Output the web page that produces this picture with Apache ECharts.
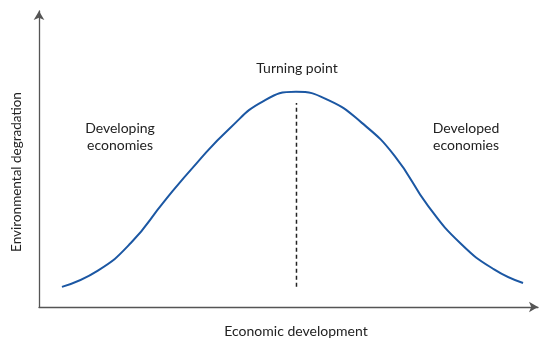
<!DOCTYPE html>
<html>
<head>
<meta charset="utf-8">
<script src="https://cdn.jsdelivr.net/npm/echarts@6/dist/echarts.min.js"></script>
<style>
  html, body { margin: 0; padding: 0; background: #fff; }
  #chart { width: 550px; height: 344px; }
</style>
</head>
<body>
<div id="chart"></div>
<script>
// curve, x = economic development, y = degradation (0-100 scale)
const curveX = [4.6, 11.8, 18.4, 25.1, 31.7, 38.3, 44.9, 51.5, 58.1, 64.7, 71.3, 78.0, 84.6, 91.2, 97.0];
const curveY = [6.8, 12.3, 21.6, 35.7, 48.8, 60.5, 69.5, 72.7, 69.8, 62.2, 51.0, 34.1, 21.3, 12.7, 8.1];

// turning point marker (dashed vertical)
const turnX = [51.6, 51.6];
const turnY = [6.8, 68.9];

const font = 'Lato, "Noto Sans", sans-serif';

const chart = echarts.init(document.getElementById('chart'));

const option = {
  animation: false,
  grid: { left: 39, right: 12, top: 11, bottom: 37 },
  xAxis: {
    type: 'value',
    min: 0,
    max: 100,
    axisLine: {
      show: true,
      symbol: ['none', 'arrow'],
      symbolSize: [8, 9],
      lineStyle: { color: '#555', width: 1.3 }
    },
    axisTick: { show: false },
    axisLabel: { show: false },
    splitLine: { show: false }
  },
  yAxis: {
    type: 'value',
    min: 0,
    max: 100,
    axisLine: {
      show: true,
      symbol: ['none', 'arrow'],
      symbolSize: [8, 9],
      lineStyle: { color: '#555', width: 1.3 }
    },
    axisTick: { show: false },
    axisLabel: { show: false },
    splitLine: { show: false }
  },
  series: [
    {
      type: 'line',
      smooth: 0.5,
      symbol: 'none',
      data: curveX.map((x, i) => [x, curveY[i]]),
      lineStyle: { color: '#1b57a3', width: 2 }
    },
    {
      type: 'line',
      symbol: 'none',
      data: turnX.map((x, i) => [x, turnY[i]]),
      lineStyle: { color: '#222', width: 1.5, type: [4, 3] }
    }
  ],
  graphic: [
    {
      type: 'text', x: 297, y: 68,
      style: { text: 'Turning point', font: '14px ' + font, fill: '#222', align: 'center', verticalAlign: 'middle' }
    },
    {
      type: 'text', x: 120, y: 137,
      style: { text: 'Developing\neconomies', font: '14px ' + font, fill: '#222', align: 'center', verticalAlign: 'middle', lineHeight: 17 }
    },
    {
      type: 'text', x: 466, y: 137,
      style: { text: 'Developed\neconomies', font: '14px ' + font, fill: '#222', align: 'center', verticalAlign: 'middle', lineHeight: 17 }
    },
    {
      type: 'text', x: 296, y: 331,
      style: { text: 'Economic development', font: '14px ' + font, fill: '#222', align: 'center', verticalAlign: 'middle' }
    },
    {
      type: 'text', x: 17, y: 172, rotation: Math.PI / 2,
      style: { text: 'Environmental degradation', font: '13.5px ' + font, fill: '#222', align: 'center', verticalAlign: 'middle' }
    }
  ]
};

chart.setOption(option);
window.addEventListener('resize', () => chart.resize());
</script>
</body>
</html>
